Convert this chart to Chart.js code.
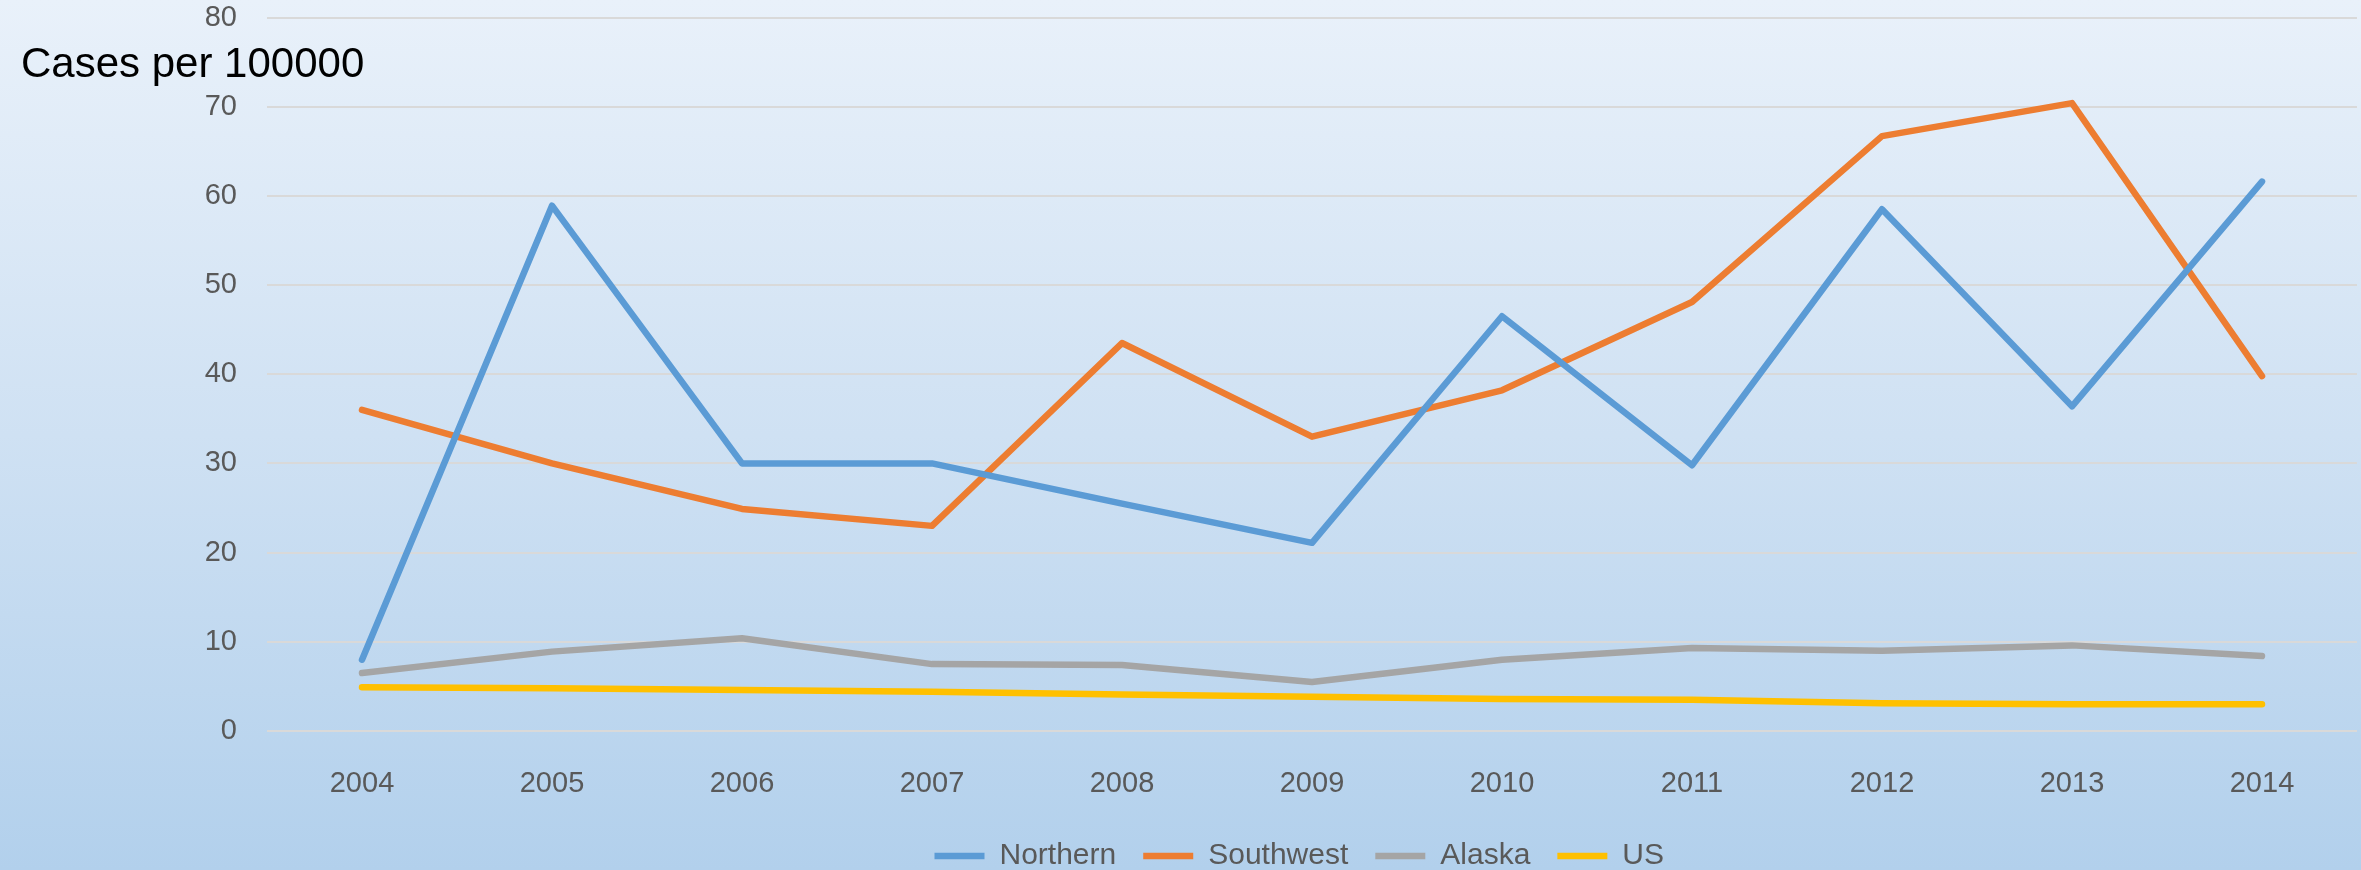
<!DOCTYPE html>
<html>
<head>
<meta charset="utf-8">
<script src="https://cdn.jsdelivr.net/npm/chart.js@4/dist/chart.umd.min.js"></script>
<style>
  html, body { margin: 0; padding: 0; }
  body {
    width: 2361px; height: 870px; overflow: hidden;
    background: linear-gradient(180deg, #e9f1fa 0%, #cfe1f3 50%, #b2d0ec 100%);
  }
  #c { display: block; }
</style>
</head>
<body>
<canvas id="c" width="2361" height="870"></canvas>
<script>
const years = ['2004','2005','2006','2007','2008','2009','2010','2011','2012','2013','2014'];
const northern  = [8.0, 58.9, 30.0, 30.0, 25.5, 21.1, 46.5, 29.8, 58.5, 36.4, 61.6];
const southwest = [36.0, 30.0, 24.9, 23.0, 43.5, 33.0, 38.2, 48.1, 66.7, 70.4, 39.8];
const alaska    = [6.5, 8.9, 10.4, 7.5, 7.4, 5.5, 8.0, 9.3, 9.0, 9.6, 8.4];
const us        = [4.9, 4.8, 4.6, 4.4, 4.1, 3.85, 3.6, 3.5, 3.1, 3.0, 3.0];
const yTitle = 'Cases per 100000';

const FONT = "'Liberation Sans', Arial, sans-serif";

function ds(label, data, color) {
  return {
    label, data,
    borderColor: color, backgroundColor: color,
    borderWidth: 6.5, pointRadius: 0, pointHoverRadius: 0,
    borderCapStyle: 'round', borderJoinStyle: 'round',
    tension: 0, fill: false, pointStyle: 'line'
  };
}

const titlePlugin = {
  id: 'yTitle',
  afterDraw(chart) {
    const ctx = chart.ctx;
    ctx.save();
    ctx.font = "42px " + FONT;
    ctx.fillStyle = '#000000';
    ctx.textAlign = 'left';
    ctx.textBaseline = 'alphabetic';
    ctx.fillText(yTitle, 21, 77);
    ctx.restore();
  }
};

const legendShift = {
  id: 'legendShift',
  afterLayout(chart) {
    const lg = chart.legend;
    if (!lg || !lg.lineWidths) return;
    const pad = lg.options.labels.padding;
    const cur = (lg.left + pad + lg.right - lg.lineWidths[0]) / 2;
    const dx = 934.5 - cur;
    lg.left += dx; lg.right += dx;
    const dy = 11;
    lg.top += dy; lg.bottom += dy;
  }
};

new Chart(document.getElementById('c'), {
  type: 'line',
  data: {
    labels: years,
    datasets: [
      ds('Northern', northern, '#5b9bd5'),
      ds('Southwest', southwest, '#ed7d31'),
      ds('Alaska', alaska, '#a5a5a5'),
      ds('US', us, '#ffc000')
    ]
  },
  plugins: [titlePlugin, legendShift],
  options: {
    responsive: false,
    animation: false,
    devicePixelRatio: 1,
    layout: { padding: { top: 17.5, right: 4, left: 0, bottom: 0 } },
    plugins: {
      tooltip: { enabled: false },
      title: { display: false },
      legend: {
        display: true,
        position: 'bottom',
        align: 'center',
        labels: {
          usePointStyle: true,
          pointStyleWidth: 50,
          padding: 27,
          color: '#595959',
          font: { family: FONT, size: 30 }
        }
      }
    },
    scales: {
      x: {
        offset: true,
        grid: { display: false, drawTicks: false },
        border: { display: false },
        ticks: { color: '#595959', font: { family: FONT, size: 29 }, padding: 36, maxRotation: 0 },
        afterFit(scale) { scale.height = 72; scale.paddingLeft = 0; scale.paddingRight = 0; }
      },
      y: {
        min: 0, max: 80,
        grid: { color: '#d9d9d9', lineWidth: 2, drawTicks: false },
        border: { display: false },
        ticks: { stepSize: 10, color: '#595959', font: { family: FONT, size: 29 }, padding: 30 },
        afterFit(scale) { scale.width = 267; scale.paddingTop = 0; scale.paddingBottom = 0; }
      }
    }
  }
});
</script>
</body>
</html>
